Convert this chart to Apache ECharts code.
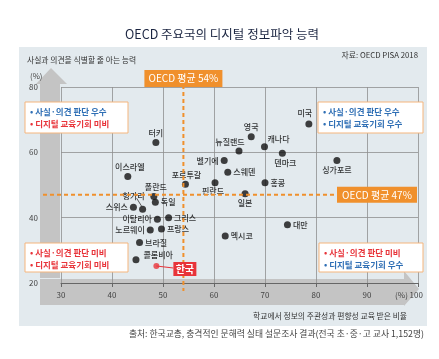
<!DOCTYPE html>
<html><head><meta charset="utf-8">
<script src="https://cdn.jsdelivr.net/npm/echarts@6/dist/echarts.min.js"></script>
<style>html,body{margin:0;padding:0;background:#fff}#c{width:439px;height:359px}</style>
</head><body><div id="c"></div>
<script>
// ---- data ----
const countries = ['터키','이스라엘','포르투갈','벨기에','핀란드','스웨덴','뉴질랜드','영국','캐나다','덴마크','홍콩','미국','싱가포르','일본','대만','멕시코','폴란드','헝가리','스위스','독일','이탈리아','그리스','노르웨이','프랑스','브라질','콜롬비아','한국'];
const educationRate = [48.6,43.1,54.4,62.0,60.2,62.7,64.9,67.3,69.9,73.4,70.0,78.6,84.1,66.1,74.4,62.2,48.2,46.0,44.2,48.5,48.9,51.1,47.5,49.7,45.4,44.7,48.7];
const factOpinionRate = [63.0,52.6,50.2,57.5,50.7,53.9,60.4,64.8,61.7,59.7,50.7,68.7,57.5,47.3,37.8,34.4,46.5,42.6,43.2,44.7,39.5,40.0,36.2,36.5,32.4,27.1,25.2];
const highlightCountry = '한국';
const oecdAvgEducation = 54;
const oecdAvgFactOpinion = 47;
const xTickLabels = [30,40,50,60,70,80,90,100];
const yTickLabels = [20,40,60,80];

// ---- label placement (style only) ----
const labelPlace = {
 '터키':['top',0,0],'이스라엘':['top',2,0],'포르투갈':['top',1,0],'벨기에':['left',0,0],
 '핀란드':['bottom',-2,-1],'스웨덴':['right',0,0],'뉴질랜드':['top',-9,0],'영국':['top',0,0],
 '캐나다':['top',14,2],'덴마크':['bottom',3,0],'홍콩':['right',0,0],'미국':['top',-4,-1],
 '싱가포르':['bottom',0,0],'일본':['bottom',0,0],'대만':['right',0,0],'멕시코':['right',0,0],
 '폴란드':['top',2,0],'헝가리':['top',-9,-4],'스위스':['left',0,0],'독일':['right',0,0],
 '이탈리아':['left',0,0],'그리스':['right',0,0],'노르웨이':['left',0,0],'프랑스':['right',0,0],
 '브라질':['right',0,0],'콜롬비아':['right',2,-5]
};
const FF = "'Noto Sans CJK KR','Noto Sans',sans-serif";
const ORANGE = '#f0902c', RED = '#e8343a', BLUE = '#2f6fb5';

const pts = countries.map((n,i)=>{
  const item = {name:n, value:[educationRate[i], factOpinionRate[i]]};
  if (n === highlightCountry) {
    item.itemStyle = {color: RED}; item.symbolSize = 6; item.label = {show:false};
  } else {
    const p = labelPlace[n] || ['top',0,0];
    item.label = {show:true, position:p[0], offset:[p[1],p[2]]};
  }
  return item;
});

const chart = echarts.init(document.getElementById('c'));
chart.setOption({
  animation:false,
  backgroundColor:'#ffffff',
  grid:{left:61,right:21,top:87,bottom:76},
  xAxis:{type:'value',min:xTickLabels[0],max:xTickLabels[xTickLabels.length-1],interval:10,
    axisLine:{show:true,lineStyle:{color:'#666',width:1}},
    axisTick:{show:true,length:4,lineStyle:{color:'#666'}},
    axisLabel:{fontSize:8,color:'#444',fontFamily:FF,margin:8,
      formatter:v=> v===100 ? '(%) 100{s|}' : String(v),
      rich:{s:{width:18}}},
    splitLine:{show:true,lineStyle:{color:'#8f8f8f',width:0.8}}},
  yAxis:{type:'value',min:yTickLabels[0],max:yTickLabels[yTickLabels.length-1],interval:20,
    axisLine:{show:false},axisTick:{show:false},
    axisLabel:{fontSize:8,color:'#444',fontFamily:FF,margin:23},
    splitLine:{show:true,lineStyle:{color:'#8f8f8f',width:0.8}}},
  series:[{type:'scatter',symbolSize:7,itemStyle:{color:'#111'},z:10,
    label:{show:true,formatter:'{b}',fontSize:8,color:'#000',fontWeight:500,fontFamily:FF,distance:2},
    data:pts}]
});

const px = (x,y)=>chart.convertToPixel({gridIndex:0},[x,y]);
const vTop = px(oecdAvgEducation, yTickLabels[yTickLabels.length-1]);
const vBot = px(oecdAvgEducation, yTickLabels[0]);
const hR = px(xTickLabels[xTickLabels.length-1], oecdAvgFactOpinion);
const hL = px(xTickLabels[0], oecdAvgFactOpinion);
const kIdx = countries.indexOf(highlightCountry);
const kp = px(educationRate[kIdx], factOpinionRate[kIdx]);
const hIdx = countries.indexOf('헝가리');
const hp = px(educationRate[hIdx], factOpinionRate[hIdx]);

function txt(text,x,y,size,color,opt){
  opt=opt||{};
  return {type:'text',z:opt.z||50,style:{text:text,x:x,y:y,fill:color,fontSize:size,fontFamily:FF,
    fontWeight:opt.weight||'normal',align:opt.align||'left',textAlign:opt.align||'left',
    verticalAlign:'middle',textVerticalAlign:'middle'}};
}
function quadBox(x,y,w,h,l1,c1,l2,c2){
  return [
    {type:'rect',z:40,shape:{x:x,y:y,width:w,height:h},style:{fill:'#fff',stroke:'#f5b57c',lineWidth:1}},
    txt('• '+l1,x+5,y+9.5,8.5,c1,{weight:'bold',z:41}),
    txt('• '+l2,x+5,y+21.5,8.5,c2,{weight:'bold',z:41})
  ];
}
const g = [
  {type:'rect',z:-100,silent:true,shape:{x:19,y:47,width:408,height:279},style:{fill:'#e3eaee'}},
  {type:'polygon',z:-90,shape:{points:[[40,305],[40,84],[36,84],[51,68],[67,84],[60,84],[60,278],[40,278]]},style:{fill:'#c4c4c4'}},
  {type:'polygon',z:-90,shape:{points:[[40,279],[404,279],[404,271],[419,289],[404,306],[404,305],[40,305]]},style:{fill:'#c4c4c4'}},
  txt('OECD 주요국의 디지털 정보파악 능력',222,34,12.5,'#1a2440',{align:'center'}),
  txt('사실과 의견을 식별할 줄 아는 능력',27,60,7.8,'#333'),
  txt('자료: OECD PISA 2018',418,55,7.8,'#333',{align:'right'}),
  txt('(%)',30,76,7.8,'#444'),
  txt('학교에서 정보의 주관성과 편향성 교육 받은 비율',407,316,7.8,'#333',{align:'right'}),
  txt('출처: 한국교총, 충격적인 문해력 실태 설문조사 결과(전국 초·중·고 교사 1,152명)',424,334,8.8,'#444',{align:'right'}),
  // mean lines
  {type:'line',z:30,shape:{x1:vTop[0],y1:vTop[1]-2,x2:vBot[0],y2:vBot[1]+8},style:{stroke:ORANGE,lineWidth:2,lineDash:[4,3]}},
  {type:'line',z:30,shape:{x1:hL[0]-18,y1:hL[1],x2:hR[0]-60,y2:hR[1]},style:{stroke:ORANGE,lineWidth:2,lineDash:[4,3]}},
  {type:'rect',z:45,shape:{x:vTop[0]-39,y:vTop[1]-17,width:78,height:17},style:{fill:ORANGE}},
  txt('OECD 평균 '+oecdAvgEducation+'%',vTop[0],vTop[1]-8.5,10,'#fff',{align:'center',z:46}),
  {type:'rect',z:45,shape:{x:hR[0]-81,y:hR[1]-8,width:80,height:16},style:{fill:ORANGE}},
  txt('OECD 평균 '+oecdAvgFactOpinion+'%',hR[0]-41,hR[1],10,'#fff',{align:'center',z:46}),
  // Korea
  {type:'line',z:44,shape:{x1:kp[0],y1:kp[1],x2:kp[0]+17,y2:kp[1]+2},style:{stroke:RED,lineWidth:1.2}},
  {type:'rect',z:45,shape:{x:kp[0]+17,y:kp[1]-4,width:23,height:14},style:{fill:RED}},
  txt('한국',kp[0]+28.5,kp[1]+3,10,'#fff',{align:'center',weight:'bold',z:46}),
  // Hungary leader
  {type:'line',z:44,shape:{x1:hp[0]-6,y1:hp[1]-11,x2:hp[0]-1,y2:hp[1]-3},style:{stroke:'#333',lineWidth:0.8}}
].concat(
  quadBox(25,102,103,31,'사실·의견 판단 우수',BLUE,'디지털 교육기회 미비',RED),
  quadBox(318,102,105,31,'사실·의견 판단 우수',BLUE,'디지털 교육기회 우수',BLUE),
  quadBox(25,243,103,29,'사실·의견 판단 미비',RED,'디지털 교육기회 미비',RED),
  quadBox(319,243,104,29,'사실·의견 판단 미비',RED,'디지털 교육기회 우수',BLUE)
);
chart.setOption({graphic:g});
</script>
</body></html>
